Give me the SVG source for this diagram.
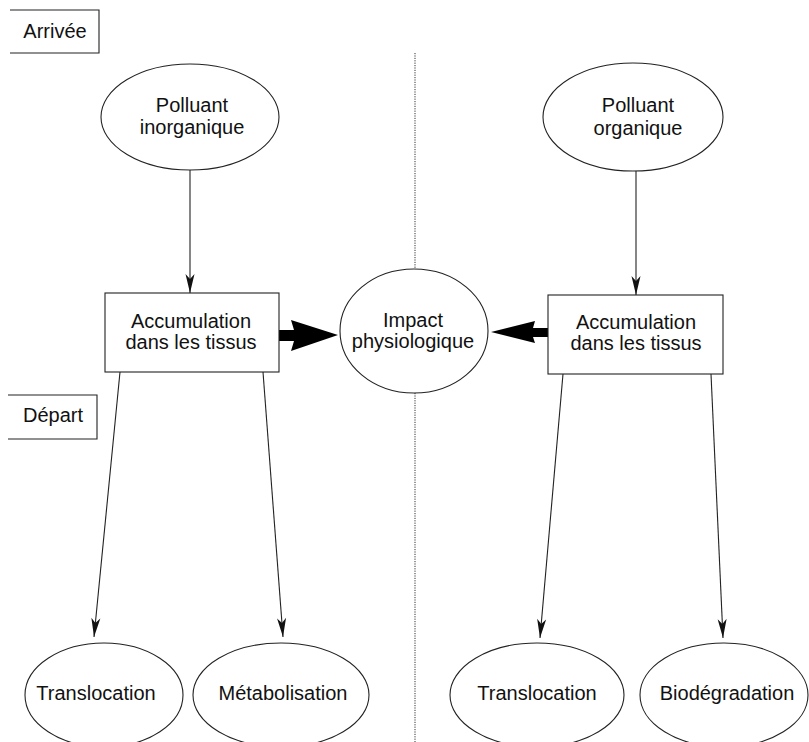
<svg xmlns="http://www.w3.org/2000/svg" width="809" height="742" viewBox="0 0 809 742">
<style>
.shape{fill:#fff;stroke:#222;stroke-width:1.1}
.lbl{fill:#111;font-family:"Liberation Sans",Arial,sans-serif;font-size:20px;text-anchor:middle}
.edge{stroke:#222;stroke-width:1.1;fill:none}
.dot{stroke:#333;stroke-width:1;stroke-dasharray:1.2 1.2;fill:none}
.thick{fill:#000}
</style>
<defs>
<marker id="ah" markerUnits="userSpaceOnUse" markerWidth="24" markerHeight="14" viewBox="-20 -7 22 14" refX="0" refY="0" orient="auto">
<path d="M0,0 L-19,-4.5 L-14,0 L-19,4.5 Z" fill="#111"/>
</marker>
</defs>
<g id="separator">
<line class="dot" x1="415" y1="53" x2="415" y2="270"/>
<line class="dot" x1="415" y1="393" x2="415" y2="742"/>
</g>
<g id="arrivee">
<path class="shape" d="M10,10 H99 V53 H10" fill="none"/>
<text class="lbl" x="55" y="38" font-size="19">Arrivée</text>
</g>
<g id="depart">
<path class="shape" d="M8,395 H97 V439 H8" fill="none"/>
<text class="lbl" x="53" y="422" font-size="19">Départ</text>
</g>
<g id="connectors">
<line class="edge" x1="190" y1="170" x2="190" y2="293" marker-end="url(#ah)"/>
<line class="edge" x1="636" y1="171" x2="636" y2="295" marker-end="url(#ah)"/>
<line class="edge" x1="120" y1="372" x2="94" y2="637" marker-end="url(#ah)"/>
<line class="edge" x1="263" y1="372" x2="283" y2="637" marker-end="url(#ah)"/>
<line class="edge" x1="563" y1="374" x2="540" y2="638" marker-end="url(#ah)"/>
<line class="edge" x1="711" y1="374" x2="723" y2="638" marker-end="url(#ah)"/>
<path class="thick" d="M279,330 L294,330 L291,320 L338,335 L291,351 L294,341 L279,341 Z"/>
<path class="thick" d="M548,328 L533,328 L535,321 L491,332 L535,343 L533,337 L548,337 Z"/>
</g>
<g id="polluant-inorganique">
<ellipse class="shape" cx="190" cy="117" rx="89" ry="53"/>
<text class="lbl" x="192" y="112">Polluant</text>
<text class="lbl" x="192" y="134">inorganique</text>
</g>
<g id="polluant-organique">
<ellipse class="shape" cx="633" cy="117" rx="90" ry="54"/>
<text class="lbl" x="638" y="112">Polluant</text>
<text class="lbl" x="638" y="135">organique</text>
</g>
<g id="accumulation-gauche">
<rect class="shape" x="105" y="293" width="174" height="79"/>
<text class="lbl" x="191" y="328">Accumulation</text>
<text class="lbl" x="191" y="349">dans les tissus</text>
</g>
<g id="accumulation-droite">
<rect class="shape" x="548" y="295" width="175" height="79"/>
<text class="lbl" x="636" y="329">Accumulation</text>
<text class="lbl" x="636" y="350">dans les tissus</text>
</g>
<g id="impact">
<ellipse class="shape" cx="414" cy="331" rx="74" ry="62"/>
<text class="lbl" x="413" y="327">Impact</text>
<text class="lbl" x="413" y="348">physiologique</text>
</g>
<g id="translocation-gauche">
<ellipse class="shape" cx="104" cy="695" rx="79" ry="52"/>
<text class="lbl" x="96" y="700">Translocation</text>
</g>
<g id="metabolisation">
<ellipse class="shape" cx="281" cy="695" rx="88" ry="52"/>
<text class="lbl" x="283" y="700">Métabolisation</text>
</g>
<g id="translocation-droite">
<ellipse class="shape" cx="537" cy="695" rx="87" ry="52"/>
<text class="lbl" x="537" y="700">Translocation</text>
</g>
<g id="biodegradation">
<ellipse class="shape" cx="724" cy="695" rx="84" ry="52"/>
<text class="lbl" x="727" y="700">Biodégradation</text>
</g>
</svg>
